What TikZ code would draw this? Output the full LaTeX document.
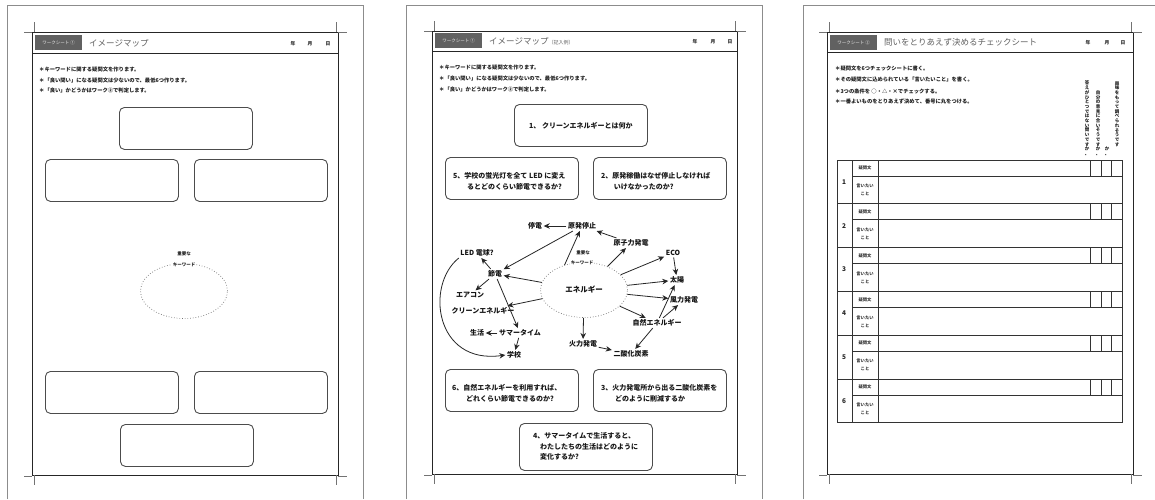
\documentclass[tikz,border=0pt]{standalone}
\usepackage{fontspec}
\setmainfont{Noto Sans CJK JP}
\usetikzlibrary{arrows.meta,shapes.geometric}
\newcommand\mycrops[4]{%
  \draw[crop] (#1+2,#2-10) -- (#1+2,#2);
  \draw[crop] (#1-8,#2) -- (#1,#2);
  \draw[crop] (#3-1.5,#2-10) -- (#3-1.5,#2);
  \draw[crop] (#3,#2) -- (#3+9,#2);
  \draw[crop] (#1+2,#4) -- (#1+2,#4+10);
  \draw[crop] (#1-8,#4+1) -- (#1,#4+1);
  \draw[crop] (#3-1.5,#4) -- (#3-1.5,#4+10);
  \draw[crop] (#3,#4+1) -- (#3+9,#4+1);
}
\begin{document}
\begin{tikzpicture}[x=1pt,y=-1pt,
  pageedge/.style={draw=black!45,line width=0.9pt},
  frame/.style={draw=black!85,line width=0.8pt},
  crop/.style={draw=black!55,line width=0.5pt},
  tag/.style={fill=black!62,text=white!92!black,font=\fontsize{4.5}{5}\selectfont,minimum width=47pt,minimum height=15pt,inner sep=0pt,anchor=north west},
  ttl/.style={anchor=west,inner sep=0pt,text=black!62,font=\fontsize{8.5}{9}\selectfont},
  ymd/.style={inner sep=0pt,text=black!85,font=\bfseries\fontsize{4.8}{5}\selectfont},
  instr/.style={anchor=west,inner sep=0pt,text=black!88,font=\bfseries\fontsize{5.3}{6}\selectfont},
  qbox/.style={draw=black!70,line width=0.9pt,rounded corners=5pt,minimum width=133pt,minimum height=42pt,inner sep=0pt,anchor=north west},
  qtext/.style={anchor=west,inner sep=0pt,align=left,text=black!90,font=\bfseries\fontsize{7}{10.7}\selectfont},
  kw/.style={fill=white,inner sep=0.8pt,text=black!85,font=\bfseries\fontsize{4.5}{5}\selectfont},
  oval/.style={ellipse,draw=black!55,dotted,line width=0.7pt,minimum width=87pt,minimum height=55pt,inner sep=0pt},
  mnode/.style={inner sep=1.5pt,text=black!92,font=\bfseries\fontsize{7}{8}\selectfont},
  arr/.style={draw=black!85,line width=0.8pt,-{Stealth[length=6pt,width=5.5pt]}},
  tline/.style={draw=black!80,line width=0.7pt},
  num/.style={inner sep=0pt,text=black!85,font=\bfseries\fontsize{6.5}{7}\selectfont},
  lab/.style={inner sep=0pt,align=center,text=black!80,font=\bfseries\fontsize{4.3}{8}\selectfont},
  vtxt/.style={inner sep=0pt,align=center,text=black!88,font=\bfseries\fontsize{4.5}{4.7}\selectfont}
]
\useasboundingbox (0,0) rectangle (1155,499);
\fill[white] (0,0) rectangle (1155,499);

% ===================== PAGE 1 =====================
\draw[pageedge] (7,499) -- (7,5) -- (363,5) -- (363,499);
\draw[frame] (32,32) rectangle (338,475);
\draw[frame] (32,53) -- (338,53);
\mycrops{32}{32}{338}{475}
\node[tag] (tag1) at (35,35) {ワークシート ①};
\node[ttl] (ttl1) at (89,43) {イメージマップ};
\node[ymd] (y1) at (293,44) {年};
\node[ymd] (m1) at (310,44) {月};
\node[ymd] (d1) at (328,44) {日};
\node[instr] (p1i1) at (39,69) {＊キーワードに関する疑問文を作ります。};
\node[instr] (p1i2) at (39,80) {＊「良い問い」になる疑問文は少ないので、最低6つ作ります。};
\node[instr] (p1i3) at (39,90) {＊「良い」かどうかはワーク②で判定します。};
\node[qbox] (p1b1) at (119,107) {};
\node[qbox] (p1b2) at (45,159) {};
\node[qbox] (p1b3) at (194,159) {};
\node[qbox] (p1b4) at (45,371) {};
\node[qbox] (p1b5) at (194,371) {};
\node[qbox] (p1b6) at (120,424) {};
\node[oval] (oval1) at (184,291) {};
\node[kw] (p1k1) at (184,254) {重要な};
\node[kw] (p1k2) at (184,265) {キーワード};

% ===================== PAGE 2 =====================
\draw[pageedge] (406,499) -- (406,5) -- (762,5) -- (762,499);
\draw[frame] (432,31) rectangle (737,474);
\draw[frame] (432,51) -- (737,51);
\mycrops{432}{31}{737}{474}
\node[tag] (tag2) at (435,33) {ワークシート ①};
\node[ttl] (ttl2) at (489,41) {イメージマップ{\fontsize{5}{6}\selectfont （記入例）}};
\node[ymd] (y2) at (695,42) {年};
\node[ymd] (m2) at (713,42) {月};
\node[ymd] (d2) at (730,42) {日};
\node[instr] (p2i1) at (439,67) {＊キーワードに関する疑問文を作ります。};
\node[instr] (p2i2) at (439,78) {＊「良い問い」になる疑問文は少ないので、最低6つ作ります。};
\node[instr] (p2i3) at (439,89) {＊「良い」かどうかはワーク②で判定します。};
\node[qbox] (q1) at (514,104) {};
\node[qbox] (q5) at (445,157) {};
\node[qbox] (q2) at (593,157) {};
\node[qbox] (q6) at (445,369) {};
\node[qbox] (q3) at (593,369) {};
\node[qbox,minimum height=47pt] (q4) at (519,423) {};
\node[qtext,anchor=center] (t1) at (q1.center) {1、 クリーンエネルギーとは何か};
\node[qtext] (t5) at (453,181.5) {5、学校の蛍光灯を全て LED に変え\\\hspace{2em}るとどのくらい節電できるか?};
\node[qtext] (t2) at (601,181.5) {2、原発稼働はなぜ停止しなければ\\\hspace{1.8em}いけなかったのか?};
\node[qtext] (t6) at (452,393) {6、自然エネルギーを利用すれば、\\\hspace{2em}どれくらい節電できるのか?};
\node[qtext] (t3) at (601,393) {3、火力発電所から出る二酸化炭素を\\\hspace{2em}どのように削減するか};
\node[qtext] (t4) at (533,446.5) {4、サマータイムで生活すると、\\\hspace{1em}わたしたちの生活はどのように\\\hspace{1em}変化するか?};

% map
\node[oval] (ene) at (584,290) {};
\node[kw] (p2k1) at (583,253) {重要な};
\node[kw] (p2k2) at (582,263) {キーワード};
\node[mnode,font=\bfseries\fontsize{7.5}{8}\selectfont] (enetxt) at (584,290) {エネルギー};
\node[mnode] (teiden) at (535,226) {停電};
\node[mnode] (gen) at (582,226) {原発停止};
\node[mnode] (gensiryoku) at (631,243) {原子力発電};
\node[mnode] (led) at (477,253) {LED 電球?};
\node[mnode] (eco) at (673,253) {ECO};
\node[mnode] (setuden) at (495,274) {節電};
\node[mnode] (taiyo) at (677,280) {太陽};
\node[mnode] (aircon) at (470,295) {エアコン};
\node[mnode] (furyoku) at (684,300) {風力発電};
\node[mnode] (clean) at (483,311) {クリーンエネルギー};
\node[mnode] (sizen) at (657,323) {自然エネルギー};
\node[mnode] (seikatu) at (477,333) {生活};
\node[mnode] (summer) at (520,333) {サマータイム};
\node[mnode] (karyoku) at (583,344) {火力発電};
\node[mnode] (gakko) at (514,355) {学校};
\node[mnode] (co2) at (631,354) {二酸化炭素};

\draw[arr] (gen) -- (teiden);
\draw[arr] (gensiryoku) -- (gen);
\draw[arr] (gen) -- (setuden);
\draw[arr] (ene.128) -- (gen);
\draw[arr] (ene) -- (gensiryoku);
\draw[arr] (ene) -- (eco);
\draw[arr] (eco) -- (taiyo);
\draw[arr] (ene) -- (taiyo);
\draw[arr] (ene) -- (furyoku);
\draw[arr] (ene) -- (sizen);
\draw[arr] (sizen) -- (taiyo);
\draw[arr] (sizen) -- (furyoku);
\draw[arr] (sizen) -- (co2);
\draw[arr] (ene) -- (karyoku);
\draw[arr] (karyoku) -- (co2);
\draw[arr] (ene) -- (setuden);
\draw[arr] (ene) -- (clean);
\draw[arr] (setuden) -- (led);
\draw[arr] (setuden) -- (aircon);
\draw[arr] (setuden) -- (summer);
\draw[arr] (summer) -- (seikatu);
\draw[arr] (summer) -- (gakko);
\draw[arr] (led.south west) .. controls (425,285) and (435,365) .. (gakko.west);

% ===================== PAGE 3 =====================
\draw[pageedge] (803,499) -- (803,5) -- (1155,5);
\draw[frame] (827,32) rectangle (1133,474);
\draw[frame] (827,52) -- (1133,52);
\mycrops{827}{32}{1133}{474}
\node[tag] (tag3) at (830,35) {ワークシート ②};
\node[ttl] (ttl3) at (884,42) {問いをとりあえず決めるチェックシート};
\node[ymd] (y3) at (1088,43) {年};
\node[ymd] (m3) at (1107,43) {月};
\node[ymd] (d3) at (1123,43) {日};
\node[instr] (p3i1) at (835,68) {＊疑問文を6つチェックシートに書く。};
\node[instr] (p3i2) at (835,79) {＊その疑問文に込められている「言いたいこと」を書く。};
\node[instr] (p3i3) at (835,91) {＊3つの条件を ○・△・×でチェックする。};
\node[instr] (p3i4) at (835,101) {＊一番よいものをとりあえず決めて、番号に丸をつける。};
\node[vtxt,anchor=north] (vA) at (1117,81) {興\\味\\を\\も\\っ\\て\\調\\べ\\ら\\れ\\そ\\う\\で\\す};
\node[vtxt,anchor=south] (vB) at (1107,156) {か\\、};
\node[vtxt,anchor=south] (vC) at (1098,156) {自\\分\\の\\意\\見\\に\\合\\い\\そ\\う\\で\\す\\か\\、};
\node[vtxt,anchor=south] (vD) at (1087,156) {答\\え\\が\\ひ\\と\\つ\\で\\は\\な\\い\\問\\い\\で\\す\\か\\、};

\draw[tline,line width=1pt] (837,160) rectangle (1122,422.8);
\draw[tline] (852,160) -- (852,422.8);
\draw[tline] (878,160) -- (878,422.8);
\foreach \i/\n in {0/1,1/2,2/3,3/4,4/5,5/6}{
  \pgfmathsetmacro\t{160+\i*43.8}
  \draw[tline] (837,\t) -- (1122,\t);
  \draw[tline] (852,\t+16) -- (1122,\t+16);
  \foreach \xx in {1090,1101,1111} \draw[tline] (\xx,\t) -- (\xx,\t+16);
  \node[num] (num\n) at (844,\t+22) {\n};
  \node[lab] (q\n lab) at (865,\t+8) {疑問文};
  \node[lab] (s\n lab) at (865,\t+30) {言いたい\\こと};
}
\end{tikzpicture}
\end{document}
